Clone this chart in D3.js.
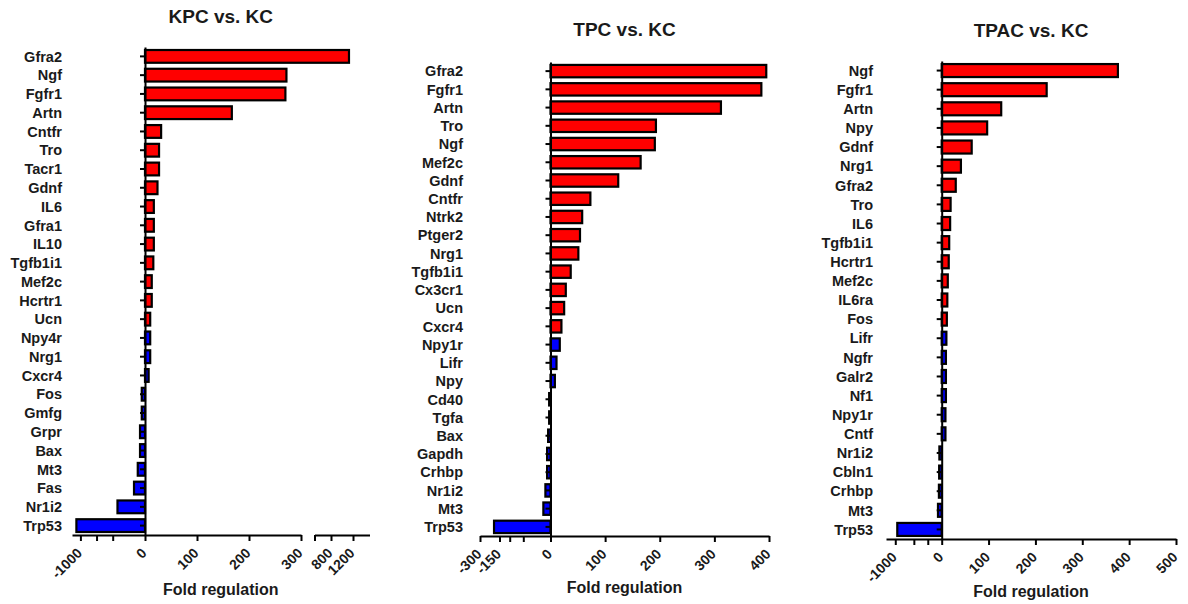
<!DOCTYPE html>
<html><head><meta charset="utf-8">
<script src="https://cdn.jsdelivr.net/npm/d3@7"></script>
<style>
body{margin:0;background:#fff;}
svg{display:block;background:#fff;}
text{font-family:Arial,"Liberation Sans",sans-serif;font-weight:bold;fill:#1a1a1a;}
</style></head><body><svg id="chart" width="1188" height="604"></svg>
<script>
// ---------- DATA ----------
const kpcTitle = "KPC vs. KC";
const kpcGenes = ["Gfra2","Ngf","Fgfr1","Artn","Cntfr","Tro","Tacr1","Gdnf","IL6","Gfra1","IL10","Tgfb1i1","Mef2c","Hcrtr1","Ucn","Npy4r","Nrg1","Cxcr4","Fos","Gmfg","Grpr","Bax","Mt3","Fas","Nr1i2","Trp53"];
const kpcValues = [1127,272,270,167,31,27,27,24,17,17,17,16,13,13,10,10,10,7,-50,-50,-77,-77,-112,-170,-426,-1062];
const kpcDirection = ["up","up","up","up","up","up","up","up","up","up","up","up","up","up","up","down","down","down","down","down","down","down","down","down","down","down"];
const kpcTickLabels = [-1000,0,100,200,300];
const kpcMinorTicks = [-750,-500];
const kpcBreakTickLabels = [800,1200];

const tpcTitle = "TPC vs. KC";
const tpcGenes = ["Gfra2","Fgfr1","Artn","Tro","Ngf","Mef2c","Gdnf","Cntfr","Ntrk2","Ptger2","Nrg1","Tgfb1i1","Cx3cr1","Ucn","Cxcr4","Npy1r","Lifr","Npy","Cd40","Tgfa","Bax","Gapdh","Crhbp","Nr1i2","Mt3","Trp53"];
const tpcValues = [395,386,312,193,191,165,124,73,58,54,51,37,28,25,20,17,11,8,-4,-4,-7,-10,-10,-15,-21,-192];
const tpcDirection = ["up","up","up","up","up","up","up","up","up","up","up","up","up","up","up","down","down","down","down","down","down","down","down","down","down","down"];
const tpcTickLabels = [-300,-150,0,100,200,300,400];
const tpcMinorTicks = [-120,-80];

const tpacTitle = "TPAC vs. KC";
const tpacGenes = ["Ngf","Fgfr1","Artn","Npy","Gdnf","Nrg1","Gfra2","Tro","IL6","Tgfb1i1","Hcrtr1","Mef2c","IL6ra","Fos","Lifr","Ngfr","Galr2","Nf1","Npy1r","Cntf","Nr1i2","Cbln1","Crhbp","Mt3","Trp53"];
const tpacValues = [376,224,127,97,64,41,30,19,18,16,15,13,12,11,10,9,9,9,8,8,-50,-55,-60,-80,-957];
const tpacDirection = ["up","up","up","up","up","up","up","up","up","up","up","up","up","up","down","down","down","down","down","down","down","down","down","down","down"];
const tpacTickLabels = [-1000,0,100,200,300,400,500];
const tpacMinorTicks = [-600,-300];

const xAxisTitle = "Fold regulation";

// ---------- LAYOUT ----------
const svg = d3.select("#chart");
const colorOf = d => d === "up" ? "#ff0000" : "#0000ff";

const panels = [
  { title: kpcTitle, titleY: 23, genes: kpcGenes, values: kpcValues, dir: kpcDirection,
    yRange: [47, 535], labelRight: 62, xLabelY: 595,
    segments: [
      { domain: [-1130, 0, 300], range: [72, 145, 301], labels: kpcTickLabels, minor: kpcMinorTicks },
      { domain: [500, 1500], range: [314.5, 369.5], labels: kpcBreakTickLabels, minor: [500] }
    ] },
  { title: tpcTitle, titleY: 36, genes: tpcGenes, values: tpcValues, dir: tpcDirection,
    yRange: [62, 536], labelRight: 463, xLabelY: 593,
    segments: [
      { domain: [-300, -150, 0, 400], range: [480, 499.5, 550.5, 769], labels: tpcTickLabels, minor: tpcMinorTicks }
    ] },
  { title: tpacTitle, titleY: 37, genes: tpacGenes, values: tpacValues, dir: tpacDirection,
    yRange: [61, 539], labelRight: 873, xLabelY: 597,
    segments: [
      { domain: [-1200, 0, 500], range: [886, 941.7, 1176], labels: tpacTickLabels, minor: tpacMinorTicks }
    ] }
];

panels.forEach(p => {
  const g = svg.append("g");
  const dom = [], rng = [];
  p.segments.forEach(s => { dom.push(...s.domain); rng.push(...s.range); });
  const x = d3.scaleLinear().domain(dom).range(rng);
  const y = d3.scaleBand().domain(p.genes).range(p.yRange).paddingInner(0.32).paddingOuter(0.16);
  const x0 = x(0);
  const axisY = p.yRange[1];
  const xStart = rng[0], xEnd = rng[rng.length - 1];

  // bars
  g.selectAll("rect.bar").data(p.genes).join("rect")
    .attr("class", "bar")
    .attr("x", (d, i) => Math.min(x0, x(p.values[i])))
    .attr("width", (d, i) => Math.abs(x(p.values[i]) - x0))
    .attr("y", d => y(d))
    .attr("height", y.bandwidth())
    .attr("fill", (d, i) => colorOf(p.dir[i]))
    .attr("stroke", "#000")
    .attr("stroke-width", 2.2);

  // x axis segments
  p.segments.forEach(s => {
    const sx = d3.scaleLinear().domain(s.domain).range(s.range);
    const ax = d3.axisBottom(sx)
      .tickValues(s.labels.concat(s.minor))
      .tickFormat(d => s.labels.includes(d) ? String(d) : "")
      .tickSize(6).tickSizeOuter(0);
    const ag = g.append("g").attr("transform", `translate(0,${axisY})`).call(ax);
    ag.select(".domain").attr("stroke", "#000").attr("stroke-width", 2);
    ag.selectAll(".tick line").attr("stroke", "#000").attr("stroke-width", 2);
    ag.selectAll(".tick text")
      .attr("x", 0).attr("y", 0).attr("dy", 0)
      .attr("text-anchor", "end")
      .attr("transform", "translate(2,19) rotate(-45)")
      .attr("font-size", 14)
      .attr("font-family", null)
      .attr("fill", "#1a1a1a");
  });

  // y axis
  const ay = d3.axisLeft(y).tickSize(5).tickSizeOuter(0);
  const yg = g.append("g").attr("transform", `translate(${x0},0)`).call(ay);
  yg.attr("font-family", null).attr("font-size", null);
  yg.select(".domain").attr("stroke", "#000").attr("stroke-width", 2);
  yg.selectAll(".tick line").attr("stroke", "#000").attr("stroke-width", 2);
  yg.selectAll(".tick text")
    .attr("x", p.labelRight - x0)
    .attr("dy", "0.36em")
    .attr("font-size", 14.5)
    .attr("fill", "#1a1a1a");
  yg.raise();

  // title
  g.append("text")
    .attr("x", (xStart + xEnd) / 2).attr("y", p.titleY)
    .attr("text-anchor", "middle")
    .attr("font-size", 19)
    .text(p.title);

  // x axis title
  g.append("text")
    .attr("x", (xStart + xEnd) / 2).attr("y", p.xLabelY)
    .attr("text-anchor", "middle")
    .attr("font-size", 16)
    .text(xAxisTitle);
});
</script></body></html>
